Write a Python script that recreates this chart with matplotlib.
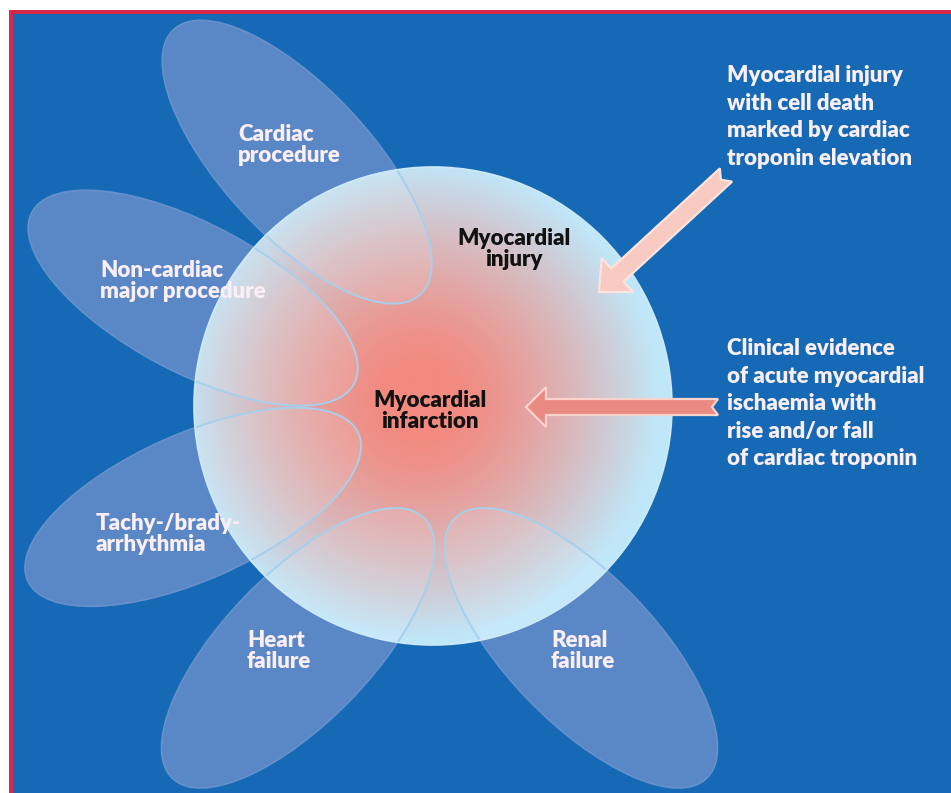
import numpy as np
import matplotlib
matplotlib.use("Agg")
import matplotlib.pyplot as plt
from matplotlib.patches import Ellipse, Circle, Rectangle, Polygon

# ---- content ----
petal_labels = [["Cardiac", "procedure"],
                ["Non-cardiac", "major procedure"],
                ["Tachy-/brady-", "arrhythmia"],
                ["Heart", "failure"],
                ["Renal", "failure"]]
center_labels = [["Myocardial", "injury"], ["Myocardial", "infarction"]]
right_labels = [["Myocardial injury", "with cell death", "marked by cardiac",
                 "troponin elevation"],
                ["Clinical evidence", "of acute myocardial", "ischaemia with",
                 "rise and/or fall", "of cardiac troponin"]]

# ---- geometry (pixel coords, y down) ----
W, H = 951, 793
circ_c = (433, 406)
circ_r = 239
grad_c = (420, 400)
# petals: centre x, centre y, major, minor, angle
petals = [(297, 162, 362, 148, 47),
          (193, 298, 365, 148, 28),
          (193, 507, 362, 146, -24),
          (298, 648, 362, 148, -46),
          (581, 648, 362, 148, 46)]
petal_text_pos = [(238, 141), (100, 277), (96, 530), (247, 647), (551, 647)]
petal_line = 21
center_text_pos = [(514, 245), (430, 407)]
right_text_pos = [(727, 82), (727, 355)]
right_line = 27.6
# arrows: tail, tip, shaft width, head width, head length, notch
arrows = [((726, 175), (599, 292), 18, 46, 25, 7),
          ((718, 407), (526, 407), 16, 40, 20, 6)]
arrow_fill = ["#f8cac1", "#e98b82"]
arrow_edge = ["#fde4de", "#fcd3cc"]

BLUE = "#166ab5"
PETAL = "#5a87c6"
RED = "#d62848"
TXT = "#fbeef5"

fig = plt.figure(figsize=(W / 100, H / 100), dpi=100)
ax = fig.add_axes([0, 0, 1, 1])
ax.set_xlim(0, W)
ax.set_ylim(H, 0)
ax.axis("off")
fig.patch.set_facecolor("white")

ax.add_patch(Rectangle((9, 10), W, H, facecolor=RED, edgecolor="none", zorder=0))
ax.add_patch(Rectangle((13, 14), W, H, facecolor=BLUE, edgecolor="none", zorder=0.5))

for (cx, cy, a, b, ang) in petals:
    ax.add_patch(Ellipse((cx, cy), a, b, angle=ang, facecolor=PETAL,
                         edgecolor="#6691cb", lw=1.2, zorder=1))

# circle gradient
circle = Circle(circ_c, circ_r, facecolor="none", edgecolor="none", zorder=2)
ax.add_patch(circle)
x0, x1 = circ_c[0] - circ_r, circ_c[0] + circ_r
y0, y1 = circ_c[1] - circ_r, circ_c[1] + circ_r
n = 500
xs = np.linspace(x0, x1, n)
ys = np.linspace(y0, y1, n)
XX, YY = np.meshgrid(xs, ys)
d = np.hypot(XX - grad_c[0], YY - grad_c[1]) / circ_r
t = np.clip((d - 0.15) / 0.85, 0, 1)
t = t ** 1.3
c_in = np.array([242, 138, 128]) / 255
c_out = np.array([192, 231, 249]) / 255
img = c_in[None, None, :] * (1 - t[..., None]) + c_out[None, None, :] * t[..., None]
im = ax.imshow(img, extent=(x0, x1, y1, y0), zorder=2, interpolation="bilinear")
im.set_clip_path(circle)

# petal overlays inside circle
for (cx, cy, a, b, ang) in petals:
    e = Ellipse((cx, cy), a, b, angle=ang, facecolor=(1, 1, 1, 0.10),
                edgecolor="#a6d0ec", lw=1.4, zorder=3)
    ax.add_patch(e)
    e.set_clip_path(circle)

ax.add_patch(Circle(circ_c, circ_r, facecolor="none", edgecolor="#cdeaf8",
                    lw=1.2, zorder=3.5))


def arrow_poly(tail, tip, sw, hw, hl, notch):
    tail = np.array(tail, float)
    tip = np.array(tip, float)
    u = (tip - tail) / np.linalg.norm(tip - tail)
    p = np.array([-u[1], u[0]])
    base = tip - u * hl
    pts = [tail + p * sw / 2, tail + u * notch, tail - p * sw / 2,
           base - p * sw / 2, base - p * hw / 2, tip,
           base + p * hw / 2, base + p * sw / 2]
    return np.array(pts)


for (arr, fc, ec) in zip(arrows, arrow_fill, arrow_edge):
    ax.add_patch(Polygon(arrow_poly(*arr), closed=True, facecolor=fc,
                         edgecolor=ec, lw=1.6, joinstyle="miter", zorder=4))

FONT = "Lato"
FS = 16
for lines, (x, y) in zip(petal_labels, petal_text_pos):
    for i, s in enumerate(lines):
        ax.text(x, y + i * petal_line, s, color=TXT, fontsize=FS, family=FONT,
                fontweight="heavy", ha="left", va="baseline", zorder=5)

for lines, (x, y) in zip(center_labels, center_text_pos):
    for i, s in enumerate(lines):
        ax.text(x, y + i * petal_line, s, color="#111111", fontsize=FS,
                family=FONT, fontweight="heavy", ha="center", va="baseline",
                zorder=5)

for lines, (x, y) in zip(right_labels, right_text_pos):
    for i, s in enumerate(lines):
        ax.text(x, y + i * right_line, s, color=TXT, fontsize=FS, family=FONT,
                fontweight="heavy", ha="left", va="baseline", zorder=5)

fig.savefig("out.png", dpi=100)
